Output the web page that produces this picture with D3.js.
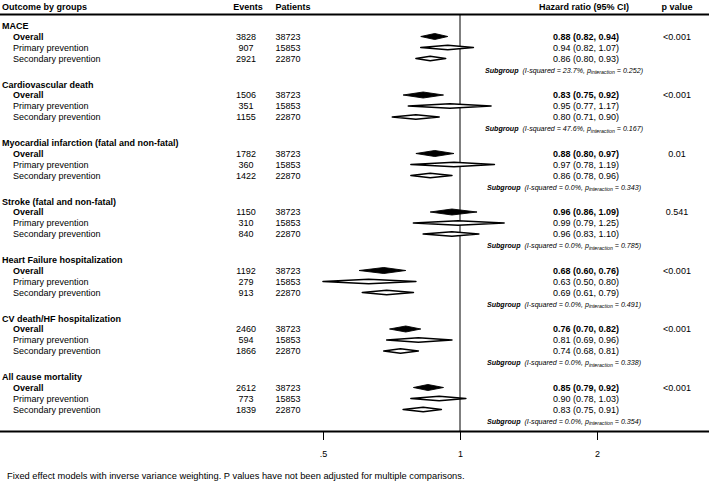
<!DOCTYPE html>
<html><head><meta charset="utf-8">
<script src="https://cdn.jsdelivr.net/npm/d3@7"></script>
<style>body{margin:0;background:#fff}svg{display:block;font-family:"Liberation Sans",Arial,Helvetica,sans-serif}</style>
</head><body><svg id="c" width="709" height="483"></svg>
<script>
const outcomes = ["MACE","Cardiovascular death","Myocardial infarction (fatal and non-fatal)","Stroke (fatal and non-fatal)","Heart Failure hospitalization","CV death/HF hospitalization","All cause mortality"];
const subgroupLabels = ["Overall","Primary prevention","Secondary prevention"];
const events = [[3828,907,2921],[1506,351,1155],[1782,360,1422],[1150,310,840],[1192,279,913],[2460,594,1866],[2612,773,1839]];
const patients = [38723,15853,22870];
const hrEst = [[0.88,0.94,0.86],[0.83,0.95,0.80],[0.88,0.97,0.86],[0.96,0.99,0.96],[0.68,0.63,0.69],[0.76,0.81,0.74],[0.85,0.90,0.83]];
const hrLow = [[0.82,0.82,0.80],[0.75,0.77,0.71],[0.80,0.78,0.78],[0.86,0.79,0.83],[0.60,0.50,0.61],[0.70,0.69,0.68],[0.79,0.78,0.75]];
const hrHigh = [[0.94,1.07,0.93],[0.92,1.17,0.90],[0.97,1.19,0.96],[1.09,1.25,1.10],[0.76,0.80,0.79],[0.82,0.96,0.81],[0.92,1.03,0.91]];
const pValues = ["<0.001","<0.001","0.01","0.541","<0.001","<0.001","<0.001"];
const iSquared = ["23.7%","47.6%","0.0%","0.0%","0.0%","0.0%","0.0%"];
const pInteraction = ["0.252","0.167","0.343","0.785","0.491","0.338","0.354"];
const axisTicks = [0.5,1,2];
const tickLabels = [".5","1","2"];
const footnote = "Fixed effect models with inverse variance weighting. P values have not been adjusted for multiple comparisons.";

const svg = d3.select("#c");
const W = 709;
const x = d3.scaleLog().domain([0.5,2]).range([323,597]);
const yG = d3.scaleLinear().domain([0,7]).range([26, 26+7*58.5]);
const rowOff = [10.5, 21.5, 32.5];
const subOff = 44;
const f2 = d3.format(".2f");

// header
const hdr = svg.append("g").attr("font-weight","bold").attr("font-size","9px").attr("fill","#000");
hdr.append("text").attr("x",2).attr("y",10).text("Outcome by groups");
hdr.append("text").attr("x",248).attr("y",10).attr("text-anchor","middle").text("Events");
hdr.append("text").attr("x",293).attr("y",10).attr("text-anchor","middle").text("Patients");
hdr.append("text").attr("x",584).attr("y",10).attr("text-anchor","middle").text("Hazard ratio (95% CI)");
hdr.append("text").attr("x",677).attr("y",10).attr("text-anchor","middle").text("p value");
svg.append("line").attr("x1",0).attr("x2",W).attr("y1",14.5).attr("y2",14.5).attr("stroke","#000").attr("stroke-width",2);

// reference line
svg.append("line").attr("x1",x(1)).attr("x2",x(1)).attr("y1",15).attr("y2",431).attr("stroke","#000").attr("stroke-width",1);

outcomes.forEach((o,g)=>{
  const y0 = yG(g);
  const G = svg.append("g").attr("fill","#000");
  G.append("text").attr("x",2).attr("y",y0+3).attr("font-size","9px").attr("font-weight","bold").text(o);
  subgroupLabels.forEach((s,k)=>{
    const y = y0 + rowOff[k];
    const bold = k===0 ? "bold" : "normal";
    G.append("text").attr("x",13).attr("y",y+3).attr("font-size","9px").attr("font-weight",bold).text(s);
    G.append("text").attr("x",246).attr("y",y+3).attr("font-size","9px").attr("text-anchor","middle").text(events[g][k]);
    G.append("text").attr("x",288).attr("y",y+3).attr("font-size","9px").attr("text-anchor","middle").text(patients[k]);
    G.append("text").attr("x",586).attr("y",y+3).attr("font-size","9px").attr("text-anchor","middle").attr("font-weight",bold)
      .text(`${f2(hrEst[g][k])} (${f2(hrLow[g][k])}, ${f2(hrHigh[g][k])})`);
    const h = k===0 ? 3 : 2.3;
    const pts = [[x(hrLow[g][k]),y],[x(hrEst[g][k]),y-h],[x(hrHigh[g][k]),y],[x(hrEst[g][k]),y+h]];
    G.append("path").attr("d", d3.line()(pts)+"Z")
      .attr("fill", k===0 ? "#000" : "#fff").attr("stroke","#000").attr("stroke-width", k===0 ? 0.9 : 1.6).attr("stroke-linejoin","round");
  });
  G.append("text").attr("x",677).attr("y",y0+rowOff[0]+3).attr("font-size","9px").attr("text-anchor","middle").text(pValues[g]);
  const t = G.append("text").attr("x",564).attr("y",y0+subOff+2.5).attr("font-size","7.1px").attr("font-style","italic").attr("text-anchor","middle").attr("fill","#000");
  t.append("tspan").attr("font-weight","bold").text("Subgroup");
  t.append("tspan").text(`\u00a0\u00a0(I-squared = ${iSquared[g]}, p`);
  t.append("tspan").attr("font-size","5.2px").attr("dy",1.5).text("interaction");
  t.append("tspan").attr("dy",-1.5).text(` = ${pInteraction[g]})`);
});

// bottom axis
svg.append("line").attr("x1",0).attr("x2",W).attr("y1",431.5).attr("y2",431.5).attr("stroke","#000").attr("stroke-width",2);
const ax = d3.axisBottom(x).tickValues(axisTicks).tickFormat((d,i)=>tickLabels[i]).tickSize(8).tickPadding(11);
const axg = svg.append("g").attr("transform","translate(0,432)").call(ax);
axg.select(".domain").remove();
axg.selectAll("line").attr("stroke","#000");
axg.selectAll("text").attr("font-size","9px").attr("fill","#000").attr("font-family","Liberation Sans, Arial, sans-serif");

svg.append("text").attr("x",7).attr("y",479).attr("font-size","9.3px").attr("fill","#000").text(footnote);
</script></body></html>
